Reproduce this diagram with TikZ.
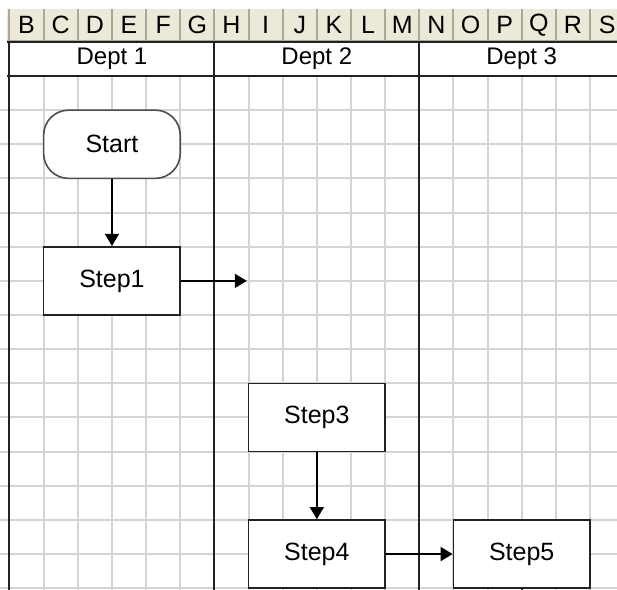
\documentclass[tikz,border=0pt]{standalone}
\usepackage{fontspec}
\setmainfont{Liberation Sans}
\usepackage{xcolor}
\definecolor{hdrfill}{HTML}{ECE9D8}
\definecolor{hdrline}{HTML}{ACA899}
\definecolor{gridgray}{HTML}{D4D4D4}
\definecolor{ink}{HTML}{222222}
\usetikzlibrary{arrows.meta}

\begin{document}
\begin{tikzpicture}[x=34.15pt,y=-34.15pt,font=\fontsize{24}{28}\selectfont,
gridln/.style={draw=gridgray,line width=2pt},
lane/.style={draw=ink,line width=2pt},
colhd/.style={font=\fontsize{25}{28}\selectfont,inner sep=0pt},
stepbox/.style={draw=ink,line width=1.6pt,fill=white,minimum width=136.6pt,minimum height=68.3pt,inner sep=0pt,font=\fontsize{25}{30}\selectfont},
term/.style={stepbox,draw=ink!80,rounded corners=25pt},
arr/.style={-{Triangle[length=12pt,width=14pt]},draw=black,line width=1.6pt}]
\useasboundingbox (-0.278,-2.225) rectangle (17.79,15.05);
% column letters
\fill[hdrfill] (-0.07,-1.96) rectangle (18,-1.02);
\foreach \i in {0,...,18} \draw[hdrline,line width=2pt] (\i,-1.96)--(\i,-1.02);
\draw[hdrline,line width=2pt] (-0.07,-1.02)--(18,-1.02);
\foreach \c [count=\i from 0] in {B,C,D,E,F,G,H,I,J,K,L,M,N,O,P,Q,R,S}
  \node[colhd] (col\c) at (\i+0.5,-1.49) {\c};
% sheet grid
\foreach \i in {1,...,17} \draw[gridln] (\i,0)--(\i,15.3);
\foreach \j in {1,...,15} \draw[gridln] (-0.3,\j)--(18,\j);
% lanes
\draw[lane] (-0.07,-1)--(18,-1);
\draw[lane] (-0.07,0)--(18,0);
\foreach \i in {0,6,12} \draw[lane] (\i,-1)--(\i,15.3);
\node (dept1) at (3,-0.5) {Dept 1};
\node (dept2) at (9,-0.5) {Dept 2};
\node (dept3) at (15,-0.5) {Dept 3};
% flow
\node[term] (start) at (3,2) {Start};
\node[stepbox] (step1) at (3,6) {Step1};
\node[stepbox] (step3) at (9,10) {Step3};
\node[stepbox] (step4) at (9,14) {Step4};
\node[stepbox] (step5) at (15,14) {Step5};
\coordinate (hand) at (6.95,6);
\coordinate (out5) at (15,15.3);
\draw[arr] (start)--(step1);
\draw[arr] (step1)--(hand);
\draw[arr] (step3)--(step4);
\draw[arr] (step4)--(step5);
\draw[ink,line width=1.6pt] (step5)--(out5);
\end{tikzpicture}
\end{document}
